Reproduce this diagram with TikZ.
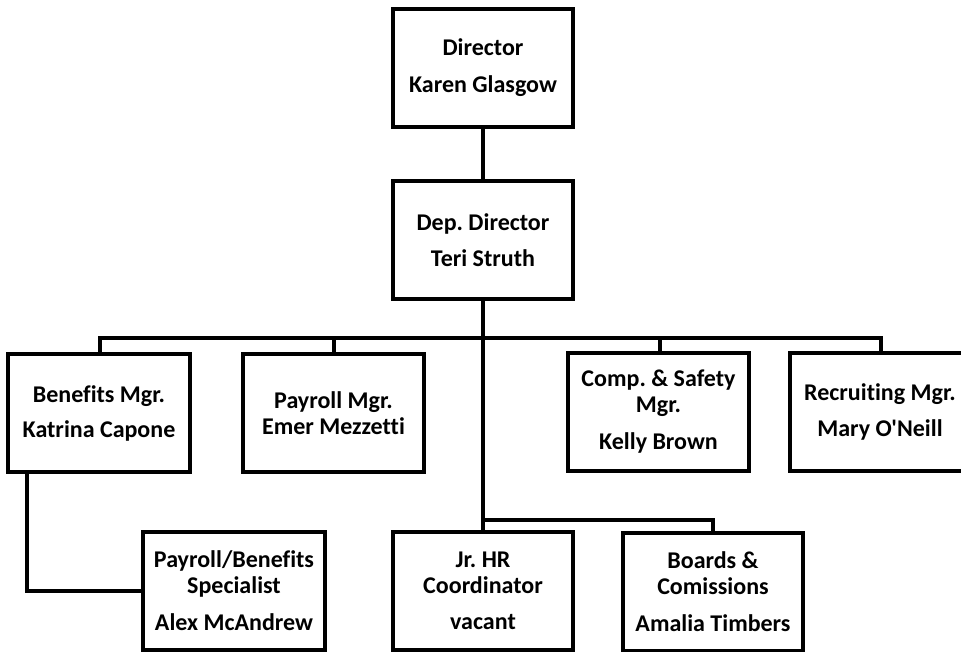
\documentclass[tikz,border=0pt]{standalone}
\usepackage{fontspec}
\setmainfont{Carlito}[Ligatures={TeXOff,NoCommon}]
\begin{document}
\begin{tikzpicture}[x=1pt,y=-1pt,
  box/.style={draw=black,line width=4pt,fill=white,minimum width=180pt,minimum height=118pt,
    inner sep=0pt,align=center,font=\bfseries\fontsize{24}{26}\selectfont\frenchspacing},
  conn/.style={draw=black,line width=4pt}]
\useasboundingbox (0,0) rectangle (961,652);
\clip (0,0) rectangle (961,652);
% boxes
\node[box] (dir) at (483,68) {Director\\[11pt]Karen Glasgow};
\node[box] (dep) at (483,240.5) {Dep. Director\\[10pt]Teri Struth};
\node[box,minimum width=182pt] (ben) at (99,413) {Benefits Mgr.\\[9pt]Katrina Capone};
\node[box,minimum width=181pt] (pay) at (333.5,413) {Payroll Mgr.\\Emer Mezzetti};
\node[box,minimum width=181pt] (comp) at (658.5,412) {Comp. \& Safety\\Mgr.\\[11pt]Kelly Brown};
\node[box] (rec) at (880,412) {Recruiting Mgr.\\[10pt]Mary O'Neill};
\node[box,minimum width=182pt] (spec) at (234,591) {Payroll/Benefits\\Specialist\\[11pt]Alex McAndrew};
\node[box] (jr) at (483,591) {Jr. HR\\Coordinator\\[10pt]vacant};
\node[box] (brd) at (713,592) {Boards \&\\Comissions\\[11pt]Amalia Timbers};
% coordinates
\coordinate (bus) at (483,338);
\coordinate (br) at (483,520);
\coordinate (bd) at (27,473);
% connectors
\draw[conn] (dir) -- (dep);
\draw[conn] (dep.south) -- (jr.north);
\draw[conn] (ben.north -| 100,0) -- (bus -| 100,0) -- (bus -| 881,0) -- (rec.north -| 881,0);
\draw[conn] (pay.north) -- (pay.north |- bus);
\draw[conn] (comp.north -| 660,0) -- (bus -| 660,0);
\draw[conn] (br) -| (brd.north);
\draw[conn] (bd) |- (spec.west);
\end{tikzpicture}
\end{document}
